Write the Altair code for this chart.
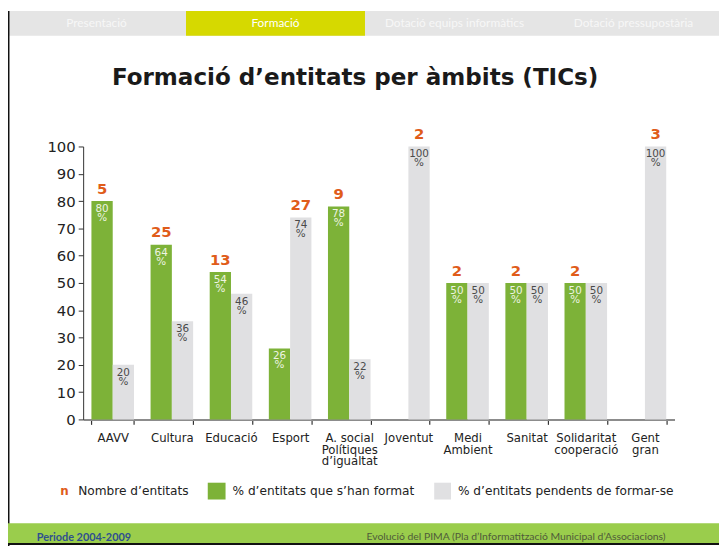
import altair as alt
import pandas as pd

# ---- data -------------------------------------------------------------
categories = [
    "AAVV", "Cultura", "Educació", "Esport", "A. social|Polítiques|d’igualtat",
    "Joventut", "Medi|Ambient", "Sanitat", "Solidaritat|cooperació", "Gent|gran",
]
pct_formats = [80, 64, 54, 26, 78, 0, 50, 50, 50, 0]      # % d'entitats que s'han format
pct_pendents = [20, 36, 46, 74, 22, 100, 50, 50, 50, 100]  # % d'entitats pendents de formar-se
n_entitats = [5, 25, 13, 27, 9, 2, 2, 2, 2, 3]             # Nombre d'entitats
series = ["formats", "pendents"]
y_ticks = list(range(0, 101, 10))

tabs = ["Presentació", "Formació", "Dotació equips informàtics", "Dotació pressupostària"]
title_text = "Formació d’entitats per àmbits (TICs)"
legend_labels = ["Nombre d’entitats", "% d’entitats que s’han format",
                 "% d’entitats pendents de formar-se"]
footer_left = "Periode 2004-2009"
footer_right = "Evolució del PIMA (Pla d’Informatització Municipal d’Associacions)"

GREEN = "#7db238"
GREY = "#e0e0e2"
ORANGE = "#e05c1a"
FONT = "DejaVu Sans"

# ---- tables -----------------------------------------------------------
rows = []
for c, g, p in zip(categories, pct_formats, pct_pendents):
    for s, v in zip(series, [g, p]):
        if v > 0:
            rows.append({"cat": c, "series": s, "value": v, "label": f"{v}\n%"})
bars_df = pd.DataFrame(rows)

count_df = pd.DataFrame({
    "cat": categories,
    "series": ["formats" if g >= p else "pendents" for g, p in zip(pct_formats, pct_pendents)],
    "value": [max(g, p) for g, p in zip(pct_formats, pct_pendents)],
    "n": n_entitats,
})

xscale = alt.Scale(domain=categories, paddingInner=0.28, paddingOuter=0.14)
oscale = alt.Scale(domain=series, paddingInner=0, paddingOuter=0)
yscale = alt.Scale(domain=[0, 100], nice=False)

xaxis = alt.Axis(orient="bottom",
                 labelExpr="isValid(datum.value) ? split(datum.value, '|') : ''",
                 labelAngle=0, labelFont=FONT, labelFontSize=11.8,
                 labelColor="#222", labelLineHeight=12, labelPadding=8,
                 labelBaseline="top", labelOverlap=False,
                 ticks=True, tickBand="extent", tickSize=5, tickColor="#333",
                 tickWidth=1.2, domainColor="#8c8c8c", domainWidth=2, title=None)
yaxis = alt.Axis(values=y_ticks, labelFont=FONT, labelFontSize=15,
                 labelColor="#222", tickSize=5, tickColor="#333", labelPadding=3,
                 labelOverlap=False, domainColor="#333", grid=False, title=None)

X = alt.X("cat:N", scale=xscale, sort=categories, axis=xaxis, title=None)
XO = alt.XOffset("series:N", scale=oscale)
Y = alt.Y("value:Q", scale=yscale, axis=yaxis, title=None)

one = pd.DataFrame({"k": [0]})


def rect(x, x2, y, y2, color):
    return alt.Chart(one).mark_rect(color=color).encode(
        x=alt.value(x), x2=alt.value(x2), y=alt.value(y), y2=alt.value(y2))


def label(text, x, y, **kw):
    return alt.Chart(one).mark_text(text=text, **kw).encode(x=alt.value(x), y=alt.value(y))


# ---- decorations (positions relative to plot area origin) -------------
nav = rect(-77, 645, -137, -112, "#e5e5e5")
nav_sel = rect(104, 285, -137, -112, "#d6d900")
tab_x = [13.5, 194.5, 375.5, 556.5]
tab_layers = [
    label(t, x, -125, font="Lato", fontSize=12,
          color="#ffffff" if i == 1 else "#f7f7f7", align="center", baseline="middle")
    for i, (t, x) in enumerate(zip(tabs, tab_x))
]
frame_left = rect(-76, -74.5, -137, 404, "#111111")
title = label(title_text, 275, -62, font=FONT, fontSize=23.3, fontWeight="bold",
              color="#1a1a1a", align="center", baseline="alphabetic")

footer = rect(-77, 645, 381, 401, "#9acd4c")
footer_line = rect(-77, 645, 401, 403, "#111111")
foot_l = label(footer_left, -47, 396, font="Lato", fontSize=11, fontWeight="bold",
               color="#2f4f8f", align="left", baseline="middle")
foot_r = label(footer_right, 589, 395, font="Lato", fontSize=10.5,
               color="#4f5b3a", align="right", baseline="middle")

leg_n = label("n", -19, 348, font=FONT, fontSize=12, fontWeight="bold", color=ORANGE,
              align="center", baseline="middle")
leg_t1 = label(legend_labels[0], -5, 348, font=FONT, fontSize=12.3, color="#222",
               align="left", baseline="middle")
leg_sq1 = rect(126, 144, 340, 357, GREEN)
leg_t2 = label(legend_labels[1], 151, 348, font=FONT, fontSize=12.3, color="#222",
               align="left", baseline="middle")
leg_sq2 = rect(355, 372, 340, 357, GREY)
leg_t3 = label(legend_labels[2], 379, 348, font=FONT, fontSize=12.3, color="#222",
               align="left", baseline="middle")

# ---- data layers ------------------------------------------------------
bars = alt.Chart(bars_df).mark_bar().encode(
    x=X, xOffset=XO, y=Y,
    color=alt.Color("series:N", scale=alt.Scale(domain=series, range=[GREEN, GREY]), legend=None),
)

vlabels = alt.Chart(bars_df).mark_text(
    font=FONT, fontSize=10.5, lineBreak="\n", lineHeight=9, baseline="top", dy=3
).encode(
    x=X, xOffset=XO, y=Y,
    text="label:N",
    color=alt.condition(alt.datum.series == "formats", alt.value("#eef4e2"), alt.value("#4a4a4a")),
)

counts = alt.Chart(count_df).mark_text(
    font=FONT, fontSize=15, fontWeight="bold", color=ORANGE, baseline="alphabetic", dy=-7.5
).encode(
    x=X, xOffset=XO, y=Y,
    text="n:Q",
)

chart = alt.layer(
    nav, nav_sel, *tab_layers, frame_left, title, footer, footer_line, foot_l, foot_r,
    leg_n, leg_t1, leg_sq1, leg_t2, leg_sq2, leg_t3,
    bars, vlabels, counts,
).properties(
    width=598, height=276,
    padding={"left": 76, "top": 137, "right": 45, "bottom": 128},
    autosize=alt.AutoSizeParams(type="none"),
    background="white",
).configure_view(stroke=None)

chart.save("out.html", embed_options={"renderer": "svg", "actions": False})
